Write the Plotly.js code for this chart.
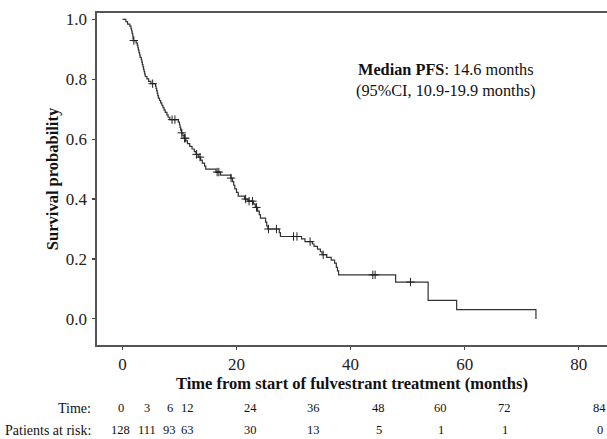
<!DOCTYPE html>
<html>
<head>
<meta charset="utf-8">
<script src="https://cdn.plot.ly/plotly-3.0.1.min.js"></script>
<style>html,body{margin:0;padding:0;background:#fff;}#chart{width:607px;height:439px;}</style>
</head>
<body>
<div id="chart"></div>
<script>
// Kaplan-Meier step points (time in months, survival probability after the event)
const eventTimes = [0, 0.6, 0.9, 1.3, 1.5, 1.6, 1.7, 1.8, 1.85, 1.9,
  2.4, 2.6, 2.7, 2.8, 2.9, 3.0, 3.1, 3.3, 3.4, 3.5, 3.6, 3.7, 3.8, 3.9, 4.0,
  4.3, 4.6, 5.0, 5.8, 5.9, 6.0, 6.1, 6.2, 6.3, 6.5, 6.7, 6.9, 7.1, 7.3, 7.5,
  7.8, 8.0, 8.3, 9.8, 10.0, 10.1, 10.2, 10.35, 10.6, 10.8, 11.1, 11.4, 11.8,
  12.2, 12.6, 12.9, 13.3, 13.7, 14.0, 14.4, 14.6, 16.4, 17.2, 19.0, 19.3,
  19.5, 19.7, 20.0, 20.3, 21.4, 22.0, 23.0, 23.3, 23.7, 24.0, 24.2, 25.1,
  25.3, 25.5, 27.5, 27.7, 31.4, 32.0, 33.3, 33.6, 34.2, 34.7, 35.0, 35.8,
  36.6, 37.2, 37.5, 37.7, 37.9, 47.9, 53.6, 58.6, 72.5];
const survival = [1.0, 0.992, 0.984, 0.977, 0.969, 0.961, 0.953, 0.945, 0.937, 0.929,
  0.921, 0.913, 0.905, 0.897, 0.889, 0.881, 0.873, 0.865, 0.857, 0.849, 0.841, 0.833, 0.825, 0.817, 0.809,
  0.801, 0.793, 0.785, 0.777, 0.769, 0.761, 0.753, 0.745, 0.737, 0.729, 0.721, 0.713, 0.705, 0.697, 0.689,
  0.681, 0.673, 0.665, 0.657, 0.648, 0.639, 0.630, 0.621, 0.612, 0.603, 0.594, 0.585, 0.576,
  0.567, 0.558, 0.549, 0.540, 0.530, 0.520, 0.510, 0.500, 0.490, 0.480, 0.470, 0.458,
  0.446, 0.434, 0.422, 0.410, 0.400, 0.393, 0.383, 0.372, 0.360, 0.348, 0.336, 0.323,
  0.310, 0.300, 0.288, 0.275, 0.267, 0.258, 0.250, 0.242, 0.233, 0.224, 0.214, 0.205,
  0.196, 0.186, 0.172, 0.160, 0.147, 0.123, 0.062, 0.031, 0.0];
// censored observations (months)
const censorTimes = [2.0, 5.3, 8.7, 9.2, 10.4, 10.9, 11.0, 13.0, 13.6, 16.6, 16.9,
  19.05, 21.6, 22.2, 22.8, 23.5, 25.6, 27.0, 30.0, 30.6, 32.9, 35.2, 43.9, 44.3, 50.5];
// number-at-risk table
const riskTimes = [0, 3, 6, 12, 24, 36, 48, 60, 72, 84];
const atRisk = [128, 111, 93, 63, 30, 13, 5, 1, 1, 0];
const xTicks = [0, 20, 40, 60, 80];
const yTicks = [0.0, 0.2, 0.4, 0.6, 0.8, 1.0];

// layout constants (pixels)
const W = 607, H = 439, ML = 97.3, MT = 12.7, MB = 93.5, MR = 0;
const tableColPx = [121, 147, 170, 188, 251, 314, 379, 441, 505, 600];
const rowTimePx = 409, rowRiskPx = 431, rowLabelRightPx = 93;

function survAt(t) {
  let s = 1;
  for (let i = 0; i < eventTimes.length; i++) { if (eventTimes[i] <= t) s = survival[i]; }
  return s;
}
const censorSurv = censorTimes.map(survAt);

const plotW = W - ML - MR, plotH = H - MT - MB;
const px2paperX = p => (p - ML) / plotW;
const px2paperY = p => (H - MB - p) / plotH;

const serif = 'Liberation Serif, Times New Roman, serif';

const traces = [
  {x: eventTimes, y: survival, type: 'scatter', mode: 'lines',
   line: {shape: 'hv', color: '#333', width: 1.2}, hoverinfo: 'skip', showlegend: false},
  {x: censorTimes, y: censorSurv, type: 'scatter', mode: 'markers',
   marker: {symbol: 'cross-thin', size: 6, line: {color: '#222', width: 1}, color: '#222'},
   hoverinfo: 'skip', showlegend: false}
];

const annotations = [
  {xref: 'x', yref: 'y', x: 56.7, y: 0.797, showarrow: false, align: 'center',
   text: '<b>Median PFS</b>: 14.6 months<br>(95%CI, 10.9-19.9 months)',
   font: {family: serif, size: 16.3, color: '#111'}},
  {xref: 'paper', yref: 'paper', x: px2paperX(rowLabelRightPx), y: px2paperY(rowTimePx),
   xanchor: 'right', yanchor: 'middle', showarrow: false, text: 'Time:',
   font: {family: serif, size: 14, color: '#111'}},
  {xref: 'paper', yref: 'paper', x: px2paperX(rowLabelRightPx), y: px2paperY(rowRiskPx),
   xanchor: 'right', yanchor: 'middle', showarrow: false, text: 'Patients at risk:',
   font: {family: serif, size: 14, color: '#111'}}
];
riskTimes.forEach((t, i) => {
  annotations.push({xref: 'paper', yref: 'paper', x: px2paperX(tableColPx[i]), y: px2paperY(rowTimePx),
    xanchor: 'center', yanchor: 'middle', showarrow: false, text: String(t),
    font: {family: serif, size: 12.5, color: '#111'}});
  annotations.push({xref: 'paper', yref: 'paper', x: px2paperX(tableColPx[i]), y: px2paperY(rowRiskPx),
    xanchor: 'center', yanchor: 'middle', showarrow: false, text: String(atRisk[i]),
    font: {family: serif, size: 12.5, color: '#111'}});
});

const layout = {
  width: W, height: H,
  margin: {l: ML, r: MR, t: MT, b: MB, pad: 0},
  paper_bgcolor: '#fff', plot_bgcolor: '#fff',
  font: {family: serif, color: '#333'},
  xaxis: {range: [-4.46, 84.96], tickvals: xTicks, ticktext: xTicks.map(String),
    ticks: 'outside', ticklen: 3, tickwidth: 1.2, tickcolor: '#444',
    showline: true, linecolor: '#555', linewidth: 1.6, mirror: true,
    showgrid: false, zeroline: false, automargin: false,
    tickfont: {family: serif, size: 17, color: '#222'},
    title: {text: '<b>Time from start of fulvestrant treatment (months)</b>', standoff: 3,
      font: {family: serif, size: 16.5, color: '#111'}}},
  yaxis: {range: [-0.0872, 1.021], tickvals: yTicks, ticktext: yTicks.map(v => v.toFixed(1)),
    ticks: 'outside', ticklen: 3, tickwidth: 1.2, tickcolor: '#444',
    showline: true, linecolor: '#555', linewidth: 1.6, ticklabelstandoff: 2,
    showgrid: false, zeroline: false, automargin: false,
    tickfont: {family: serif, size: 17, color: '#222'},
    title: {text: '<b>Survival probability</b>', standoff: 3,
      font: {family: serif, size: 16.5, color: '#111'}}},
  annotations: annotations
};

Plotly.newPlot('chart', traces, layout, {displayModeBar: false, staticPlot: true});
</script>
</body>
</html>
